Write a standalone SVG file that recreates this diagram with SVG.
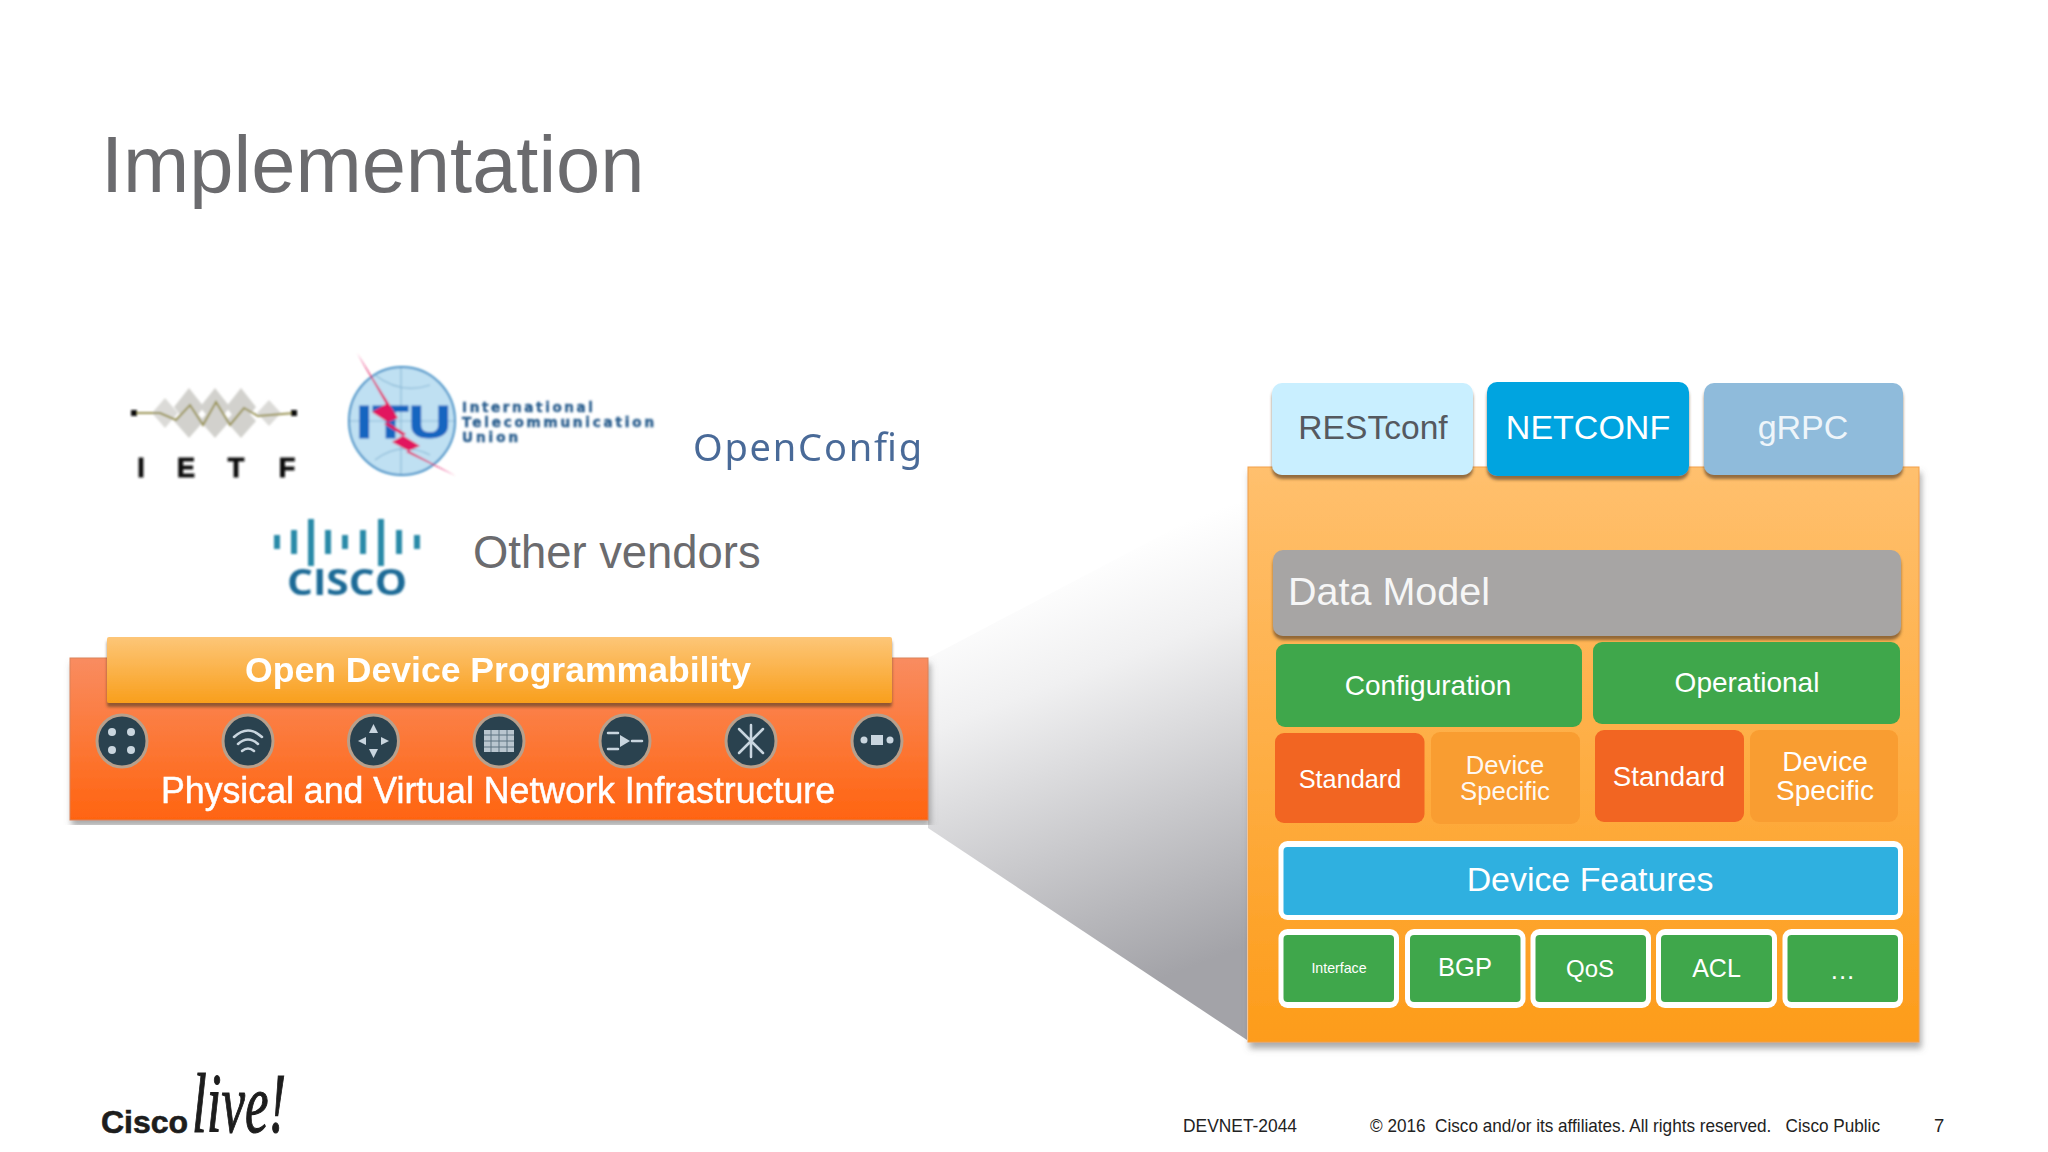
<svg xmlns="http://www.w3.org/2000/svg" width="2048" height="1152" viewBox="0 0 2048 1152">
<style>
text{font-family:"Liberation Sans",Arial,sans-serif}
.m{text-anchor:middle}
.w{fill:#fff}
.g{fill:#3fa74b}
.std{fill:#f26522}
.ds{fill:#f99d31}
.wb{fill:#fff}
.ic{fill:#2c4350;stroke:#b8a08c;stroke-width:3}
.gl{fill:#c9d6df}
.gs{fill:none;stroke:#c9d6df;stroke-width:2.5;stroke-linecap:round}
.dia{fill:#d2d1cd}
.bar{fill:#2a8aa8}
.foot{font-size:18.5px;fill:#222}
</style>
<defs>
<linearGradient id="panelG" x1="0" y1="0" x2="0" y2="1"><stop offset="0" stop-color="#ffc06e"/><stop offset="1" stop-color="#fd9c1a"/></linearGradient>
<linearGradient id="baseG" x1="0" y1="0" x2="0" y2="1"><stop offset="0" stop-color="#f98c60"/><stop offset="1" stop-color="#ff6410"/></linearGradient>
<linearGradient id="barG" x1="0" y1="0" x2="0" y2="1"><stop offset="0" stop-color="#fdc678"/><stop offset="1" stop-color="#f99f1c"/></linearGradient>
<linearGradient id="wedgeG" gradientUnits="userSpaceOnUse" x1="1060" y1="570" x2="1210" y2="960"><stop offset="0" stop-color="#ffffff"/><stop offset="0.25" stop-color="#f0f0f1"/><stop offset="1" stop-color="#a3a3a8"/></linearGradient>
<filter id="sh" x="-5%" y="-10%" width="110%" height="125%"><feDropShadow dx="0" dy="4" stdDeviation="1.500" flood-color="#5a4020" flood-opacity=".65"/></filter>
<filter id="shp" x="-3%" y="-3%" width="106%" height="106%"><feDropShadow dx="2" dy="6" stdDeviation="3" flood-color="#666" flood-opacity=".55"/></filter>
<filter id="soft" x="-5%" y="-5%" width="110%" height="110%"><feGaussianBlur stdDeviation="1"/></filter>
<filter id="soft2" x="-5%" y="-20%" width="110%" height="140%"><feGaussianBlur stdDeviation="0.7"/></filter>
</defs>
<rect width="2048" height="1152" fill="#fff"/>
<text id="title" x="101" y="192" font-size="79.500" fill="#6b6b6e">Implementation</text>

<g id="connectors"><polygon points="928,658 1247,490 1247,1040 928,828" fill="url(#wedgeG)"/></g>

<g id="ietf" filter="url(#soft)">
<g class="dia">
<polygon points="165,398 178,413 165,428 152,413" opacity=".8"/>
<polygon points="189,388 204,407 189,426 174,407"/>
<polygon points="189,404 204,421 189,438 174,421"/>
<polygon points="215,388 230,407 215,426 200,407"/>
<polygon points="215,404 230,421 215,438 200,421"/>
<polygon points="241,388 256,407 241,426 226,407"/>
<polygon points="241,404 256,421 241,438 226,421"/>
<polygon points="269,400 281,413 269,426 257,413" opacity=".8"/>
</g>
<path d="M132 413H160L176 420L190 405L203 425L216 402L230 425L244 408L258 416L295 413" fill="none" stroke="#9a9455" stroke-width="2"/>
<rect x="131" y="410" width="6" height="6" fill="#111"/><rect x="291" y="410" width="6" height="6" fill="#111"/>
<text x="141 186 236 287" y="477" font-size="27" font-weight="700" fill="#111" stroke="#111" class="m">IETF</text>
</g>

<g id="itu" filter="url(#soft)">
<ellipse cx="402" cy="421" rx="53" ry="54" fill="#bfe0f2" stroke="#3d8fc6" stroke-width="2"/>
<path d="M375 375Q401 395 430 385M350 421H454M401 368V474M375 460Q401 440 430 455" fill="none" stroke="#8fbcd8" stroke-width="1.200"/>
<text x="356" y="438" font-size="46" font-weight="700" fill="#1565c0" stroke="#1565c0" textLength="95" lengthAdjust="spacingAndGlyphs">ITU</text>
<path d="M357 353L398 418L384 424L420 446L406 452L456 476L392 442L406 434L372 412L386 404Z" fill="#e2185f"/>
<g font-weight="700" fill="#2c5f8f" stroke="#2c5f8f" stroke-width=".5" style="font-size:13.500px">
<text x="462" y="412" textLength="131" lengthAdjust="spacing" style="font-family:'DejaVu Sans',sans-serif">International</text>
<text x="462" y="427" textLength="192" lengthAdjust="spacing" style="font-family:'DejaVu Sans',sans-serif">Telecommunication</text>
<text x="462" y="442" textLength="56" lengthAdjust="spacing" style="font-family:'DejaVu Sans',sans-serif">Union</text>
</g>
</g>

<g id="openconfig" filter="url(#soft2)"><text x="693" y="461" style="font-family:'Noto Sans',sans-serif;font-size:38px" fill="#4a6a98" textLength="229" lengthAdjust="spacing">OpenConfig</text></g>

<g id="cisco" filter="url(#soft)">
<rect class="bar" x="274" y="535" width="6" height="14"/>
<rect class="bar" x="291" y="530" width="6" height="24"/>
<rect class="bar" x="308" y="519" width="6" height="47"/>
<rect class="bar" x="325" y="530" width="6" height="24"/>
<rect class="bar" x="342" y="535" width="6" height="14"/>
<rect class="bar" x="360" y="530" width="6" height="24"/>
<rect class="bar" x="378" y="519" width="6" height="47"/>
<rect class="bar" x="396" y="530" width="6" height="24"/>
<rect class="bar" x="414" y="535" width="6" height="14"/>
<text x="287" y="595" style="font-family:'Open Sans',sans-serif;font-size:35px" font-weight="700" fill="#1c6a96" textLength="120" lengthAdjust="spacingAndGlyphs">CISCO</text>
</g>

<text id="other-vendors" x="473" y="568" font-size="45.400" fill="#6b6b6e">Other vendors</text>

<g id="infrastructure">
<rect x="70" y="658" width="858" height="162" fill="url(#baseG)" stroke="#d9825a" filter="url(#shp)"/>
<g id="device-icons" filter="url(#soft2)">
<ellipse class="ic" cx="122" cy="741" rx="25" ry="26"/>
<g class="gl"><circle cx="112" cy="732" r="4"/><circle cx="131" cy="732" r="4"/><circle cx="112" cy="750" r="4"/><circle cx="131" cy="750" r="4"/></g>
<ellipse class="ic" cx="248" cy="741" rx="25" ry="26"/>
<g class="gs"><path d="M234 737Q248 724 262 737"/><path d="M238 744Q248 735 258 744"/><path d="M242 751Q248 746 254 751"/></g>
<ellipse class="ic" cx="373.500" cy="741" rx="25" ry="26"/>
<g class="gl"><polygon points="373.500,724 378,733 369,733"/><polygon points="373.500,758 378,749 369,749"/><polygon points="358,741 366,737 366,745"/><polygon points="389,741 381,737 381,745"/></g>
<ellipse class="ic" cx="499" cy="741" rx="25" ry="26"/>
<rect x="484" y="730" width="30" height="22" fill="#b9c6cf"/>
<path d="M484 735H514M484 741H514M484 747H514M491 730V752M499 730V752M507 730V752" stroke="#5d7380" stroke-width="1"/>
<ellipse class="ic" cx="625" cy="741" rx="25" ry="26"/>
<polygon points="620,735 630,741 620,747" class="gl"/>
<path d="M608 733H618M608 749H618M632 741H642" class="gs" stroke-width="1.500"/>
<ellipse class="ic" cx="751" cy="741" rx="25" ry="26"/>
<path d="M739 729L763 753M763 729L739 753M751 725V757" class="gs" stroke-width="1.500"/>
<ellipse class="ic" cx="877" cy="741" rx="25" ry="26"/>
<g class="gl"><circle cx="864" cy="740" r="3.500"/><circle cx="890" cy="740" r="3.500"/><rect x="871" y="735" width="12" height="10"/></g>
</g>
<text class="m w" x="498" y="803" font-size="37" textLength="674" lengthAdjust="spacingAndGlyphs" stroke="#fff" stroke-width=".5" filter="url(#soft2)">Physical and Virtual Network Infrastructure</text>
</g>

<g id="open-device-programmability">
<rect x="107" y="637" width="785" height="66" rx="2" fill="url(#barG)" filter="url(#sh)"/>
<text class="m w" x="498" y="682" font-size="35" font-weight="700" textLength="506" lengthAdjust="spacingAndGlyphs" filter="url(#soft2)">Open Device Programmability</text>
</g>

<g id="device-panel"><rect x="1248" y="467" width="671" height="575" fill="url(#panelG)" stroke="#f2a04a" filter="url(#shp)"/></g>

<g id="restconf"><rect x="1272" y="383" width="201" height="92" rx="10" fill="#c9efff" filter="url(#sh)"/><text class="m" x="1373" y="439" font-size="33.600" fill="#55595f">RESTconf</text></g>
<g id="netconf"><rect x="1487" y="382" width="202" height="94" rx="10" fill="#00a4e0" filter="url(#sh)"/><text class="m w" x="1588" y="439" font-size="34">NETCONF</text></g>
<g id="grpc"><rect x="1704" y="383" width="199" height="92" rx="10" fill="#8fbbdb" filter="url(#sh)"/><text class="m" x="1803" y="439" font-size="34" fill="#eef5fa">gRPC</text></g>

<g id="data-model"><rect x="1273" y="550" width="628" height="86" rx="10" fill="#a7a5a4" filter="url(#sh)"/><text x="1288" y="605" font-size="39.500" fill="#f6f6f6">Data Model</text></g>
<g id="configuration"><rect class="g" x="1276" y="644" width="306" height="83" rx="9"/><text class="m w" x="1428" y="695" font-size="28">Configuration</text></g>
<g id="operational"><rect class="g" x="1593" y="642" width="307" height="82" rx="9"/><text class="m w" x="1747" y="692" font-size="28">Operational</text></g>
<g id="standard-config"><rect class="std" x="1275" y="733" width="149.500" height="90" rx="9"/><text class="m w" x="1350" y="788" font-size="25.300">Standard</text></g>
<g id="device-specific-config"><rect class="ds" x="1431" y="732" width="149" height="92" rx="9"/><text class="m w" x="1505" y="774" font-size="25.700" fill-opacity=".95">Device</text><text class="m w" x="1505" y="800" font-size="25.700" fill-opacity=".95">Specific</text></g>
<g id="standard-oper"><rect class="std" x="1595" y="730" width="149" height="92" rx="9"/><text class="m w" x="1669" y="786" font-size="27.700">Standard</text></g>
<g id="device-specific-oper"><rect class="ds" x="1750" y="730" width="148" height="92" rx="9"/><text class="m w" x="1825" y="771" font-size="28">Device</text><text class="m w" x="1825" y="800" font-size="28">Specific</text></g>

<g id="device-features"><rect class="wb" x="1278.500" y="841" width="624.500" height="79" rx="9"/><rect x="1283.500" y="847" width="614.500" height="68" rx="4" fill="#2fb0e0"/><text class="m w" x="1590" y="891" font-size="33.900">Device Features</text></g>
<g id="feature-interface"><rect class="wb" x="1278.500" y="929" width="120.500" height="79" rx="9"/><rect class="g" x="1283.500" y="935" width="110.500" height="67" rx="4"/><text class="m w" x="1339" y="973" font-size="14.200">Interface</text></g>
<g id="feature-bgp"><rect class="wb" x="1405" y="929" width="120.500" height="79" rx="9"/><rect class="g" x="1410" y="935" width="110.500" height="67" rx="4"/><text class="m w" x="1465" y="976" font-size="25.500">BGP</text></g>
<g id="feature-qos"><rect class="wb" x="1530.500" y="929" width="120.500" height="79" rx="9"/><rect class="g" x="1535.500" y="935" width="110.500" height="67" rx="4"/><text class="m w" x="1590" y="977" font-size="24">QoS</text></g>
<g id="feature-acl"><rect class="wb" x="1656" y="929" width="121" height="79" rx="9"/><rect class="g" x="1661" y="935" width="111" height="67" rx="4"/><text class="m w" x="1716.500" y="977" font-size="25">ACL</text></g>
<g id="feature-more"><rect class="wb" x="1782.500" y="929" width="120.500" height="79" rx="9"/><rect class="g" x="1787.500" y="935" width="110.500" height="67" rx="4"/><text class="m w" x="1843" y="979" font-size="26" letter-spacing="1">...</text></g>

<g id="ciscolive-logo" fill="#1d1d1d">
<text x="101" y="1133" font-size="32" font-weight="700" stroke="#1d1d1d" stroke-width=".6">Cisco</text>
<text x="192" y="1132" font-size="84" font-style="italic" stroke="#1d1d1d" stroke-width="1.200" style="font-family:'Liberation Serif',serif" textLength="94" lengthAdjust="spacingAndGlyphs">live!</text>
</g>
<g id="footer">
<text class="foot" x="1183" y="1132" textLength="114" lengthAdjust="spacingAndGlyphs">DEVNET-2044</text>
<text class="foot" x="1370" y="1132" textLength="510" lengthAdjust="spacingAndGlyphs" xml:space="preserve">© 2016  Cisco and/or its affiliates. All rights reserved.   Cisco Public</text>
<text class="foot" x="1934" y="1132">7</text>
</g>
</svg>
